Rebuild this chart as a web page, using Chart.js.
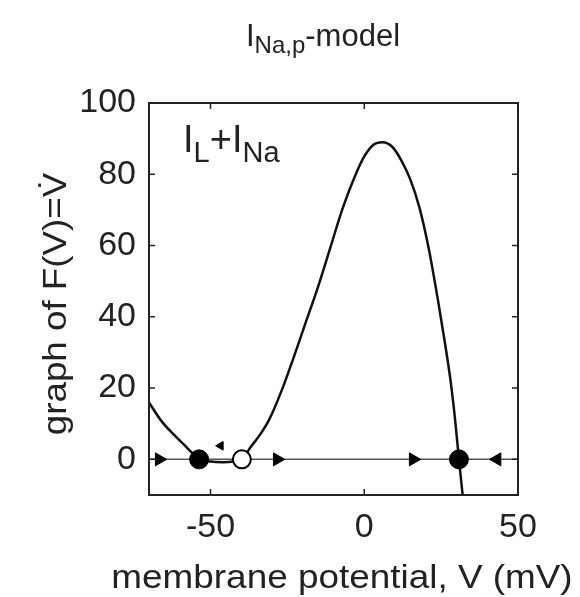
<!DOCTYPE html>
<html>
<head>
<meta charset="utf-8">
<script src="https://cdn.jsdelivr.net/npm/chart.js@4.4.1/dist/chart.umd.min.js"></script>
<style>
html,body{margin:0;padding:0;background:#fff;}
#c{display:block;}
</style>
</head>
<body>
<canvas id="c" width="580" height="597"></canvas>
<script>
// ---- data ----
const membraneV = [-70, -66, -62, -58, -54, -50, -46, -42, -39.8, -37, -34, -31, -27, -23, -19, -15, -11, -7, -3, 0, 3, 6, 9, 12, 15, 18, 21, 24, 26, 28, 29.5, 30.8, 32];
const dVdt      = [ 16, 10.8, 7, 3.6, 0.3, -0.6, -0.8, -0.5, 0, 3.4, 6.8, 11, 19, 28.5, 38.5, 48.5, 59.5, 70.5, 79.5, 85, 88.3, 89, 87.8, 84, 78.5, 70.5, 59, 44.5, 34, 22.5, 11.5, 0, -10];
const stableV   = [-53.7, 30.8];
const unstableV = [-39.8];
const arrowRightV = [-66.7, -28.3, 15.9];
const arrowLeftV  = [43.2];
const smallArrowV = [-46.7];
const smallArrowF = [3.8];
const xTicks = [-50, 0, 50];
const yTicks = [0, 20, 40, 60, 80, 100];
const xRange = [-70, 50];
const yRange = [-10, 100];
const xTitle = 'membrane potential, V (mV)';
const yTitle = 'graph of F(V)=V\u0307';

const pts = (xs, ys) => xs.map((x, i) => ({x: x, y: ys ? ys[i] : 0}));
const FONT = '"Liberation Sans", Arial, sans-serif';
const TXT = '#222';

const framePlugin = {
  id: 'frame',
  afterDraw(chart) {
    const ctx = chart.ctx, a = chart.chartArea;
    const xs = chart.scales.x, ys = chart.scales.y;
    ctx.save();
    ctx.strokeStyle = '#222';
    ctx.lineWidth = 2;
    ctx.strokeRect(a.left, a.top, a.right - a.left, a.bottom - a.top);
    ctx.lineWidth = 1.5;
    const L = 6;
    ctx.beginPath();
    xTicks.forEach(v => {
      const px = xs.getPixelForValue(v);
      ctx.moveTo(px, a.bottom); ctx.lineTo(px, a.bottom - L);
      ctx.moveTo(px, a.top); ctx.lineTo(px, a.top + L);
    });
    yTicks.forEach(v => {
      const py = ys.getPixelForValue(v);
      ctx.moveTo(a.left, py); ctx.lineTo(a.left + L, py);
      ctx.moveTo(a.right, py); ctx.lineTo(a.right - L, py);
    });
    ctx.stroke();

    ctx.fillStyle = TXT;
    ctx.textBaseline = 'alphabetic';
    ctx.textAlign = 'left';
    function runs(parts, x, y) {
      parts.forEach(p => {
        ctx.font = p.size + 'px ' + FONT;
        ctx.fillText(p.t, x, y + (p.dy || 0));
        x += ctx.measureText(p.t).width;
      });
    }
    function width(parts) {
      let w = 0;
      parts.forEach(p => { ctx.font = p.size + 'px ' + FONT; w += ctx.measureText(p.t).width; });
      return w;
    }
    const title = [{t:'I', size:31}, {t:'Na,p', size:24, dy:7}, {t:'-model', size:31}];
    runs(title, 323 - width(title) / 2, 46);
    const ann = [{t:'I', size:38}, {t:'L', size:29, dy:10}, {t:'+I', size:38}, {t:'Na', size:29, dy:10}];
    runs(ann, 183, 152);

    // axis titles (slightly wide lettering as in the reference)
    ctx.textAlign = 'center';
    ctx.font = '34px ' + FONT;
    ctx.save();
    ctx.translate(342, 588);
    ctx.scale(1.085, 1);
    ctx.fillText(xTitle, 0, 0);
    ctx.restore();
    ctx.save();
    ctx.translate(66, 304);
    ctx.rotate(-Math.PI / 2);
    ctx.scale(1.08, 1);
    ctx.fillText(yTitle, 0, 0);
    ctx.restore();
    ctx.restore();
  }
};

new Chart(document.getElementById('c'), {
  type: 'scatter',
  data: {
    datasets: [
      { label: 'stable', data: pts(stableV), pointStyle: 'circle', pointRadius: 9.5, pointBackgroundColor: '#000', pointBorderColor: '#000', pointBorderWidth: 1, order: 0 },
      { label: 'unstable', data: pts(unstableV), pointStyle: 'circle', pointRadius: 9, pointBackgroundColor: '#fff', pointBorderColor: '#000', pointBorderWidth: 2, order: 0 },
      { label: 'right', data: pts(arrowRightV), pointStyle: 'triangle', rotation: 90, pointRadius: 7.5, pointBackgroundColor: '#000', pointBorderColor: '#000', pointBorderWidth: 1, order: 0 },
      { label: 'left', data: pts(arrowLeftV), pointStyle: 'triangle', rotation: -90, pointRadius: 7.5, pointBackgroundColor: '#000', pointBorderColor: '#000', pointBorderWidth: 1, order: 0 },
      { label: 'small', data: pts(smallArrowV, smallArrowF), pointStyle: 'triangle', rotation: -90, pointRadius: 5, pointBackgroundColor: '#000', pointBorderColor: '#000', pointBorderWidth: 1, order: 0 },
      { label: 'F(V)', data: pts(membraneV, dVdt), showLine: true, borderColor: '#111', borderWidth: 2.5, pointRadius: 0, cubicInterpolationMode: 'monotone', order: 1 },
      { label: 'zero', data: pts(xRange), showLine: true, borderColor: '#555', borderWidth: 1.5, pointRadius: 0, order: 2 }
    ]
  },
  options: {
    responsive: false,
    animation: false,
    events: [],
    layout: { padding: { top: 103, right: 62, left: 0, bottom: 0 } },
    plugins: { legend: { display: false }, tooltip: { enabled: false }, title: { display: false } },
    scales: {
      x: {
        type: 'linear', min: xRange[0], max: xRange[1],
        afterBuildTicks: s => { s.ticks = xTicks.map(v => ({value: v})); },
        afterFit: s => { s.height = 102; },
        grid: { display: false, drawTicks: false },
        border: { display: false },
        ticks: { color: TXT, font: { family: FONT, size: 34 }, padding: 12, maxRotation: 0 },
        title: { display: false }
      },
      y: {
        type: 'linear', min: yRange[0], max: yRange[1],
        afterBuildTicks: s => { s.ticks = yTicks.map(v => ({value: v})); },
        afterFit: s => { s.width = 149; },
        grid: { display: false, drawTicks: false },
        border: { display: false },
        ticks: { color: TXT, font: { family: FONT, size: 34 }, padding: 13 },
        title: { display: false }
      }
    }
  },
  plugins: [framePlugin]
});
</script>
</body>
</html>
